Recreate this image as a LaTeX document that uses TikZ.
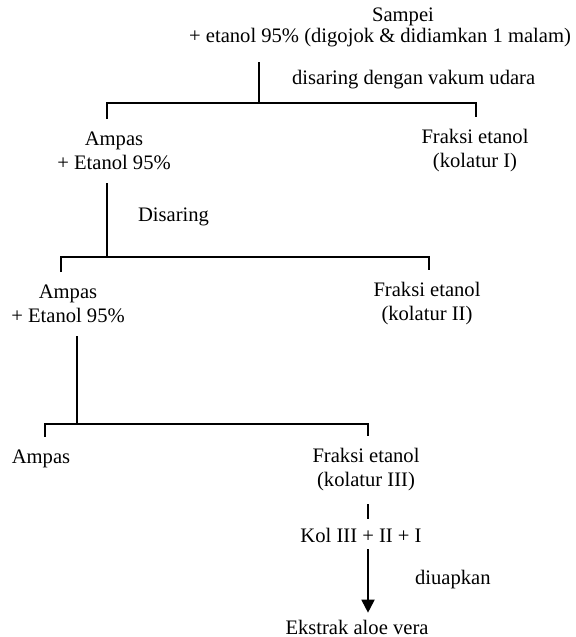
\documentclass[tikz,border=0pt]{standalone}
\usepackage{fontspec}
\setmainfont{Liberation Serif}
\usepackage{tikz}
\usetikzlibrary{arrows.meta}

\begin{document}
\begin{tikzpicture}[x=0.5pt,y=-0.5pt]
\useasboundingbox (0,0) rectangle (575,637);
\begin{scope}[every node/.style={align=center,font=\fontsize{10.3}{12}\selectfont}]
   \node (sampel) at (403,17) {Sampei};
   \node (campuran) at (380,38) {+ etanol 95\% (digojok \& didiamkan 1 malam)};

   \node (ampas1) at (114,151) {Ampas\\+ Etanol 95\%};
   \node (fraksi1) at (475,151) {Fraksi etanol\\(kolatur I)};

   \node (ampas2) at (68,304) {Ampas\\+ Etanol 95\%};
   \node (fraksi2) at (427,304) {Fraksi etanol\\(kolatur II)};

   \node (ampas3) at (41,459) {Ampas};
   \node (fraksi3) at (366,470) {Fraksi etanol\\(kolatur III)};

   \node (kol) at (361,535) {Kol III + II + I};
   \node (ekstrak) at (357,627) {Ekstrak aloe vera};

   % keterangan proses
   \node[anchor=west] (saring1) at (285,80) {disaring dengan vakum udara};
   \node[anchor=west] (saring2) at (131,217) {Disaring};
   \node[anchor=west] (uap) at (408,580) {diuapkan};
\end{scope}

\coordinate (k1) at (259,103);
\coordinate (k1l) at (107,103);
\coordinate (k1r) at (476,103);
\coordinate (k2) at (107,257);
\coordinate (k2l) at (61,257);
\coordinate (k2r) at (429,257);
\coordinate (k3) at (77,424);
\coordinate (k3l) at (45,424);
\coordinate (k3r) at (368,424);

\begin{scope}[every path/.style={draw,line width=0.9pt}]
   \path [shorten <=4pt] (campuran.south -| k1) -- (k1);
   \path [shorten <=3pt,shorten >=3pt] (ampas1.north -| k1l) |- (k1r) -- (fraksi1.north -| k1r);

   \path [shorten <=3pt] (ampas1.south -| k2) -- (k2);
   \path [shorten <=3pt,shorten >=3pt] (ampas2.north -| k2l) |- (k2r) -- (fraksi2.north -| k2r);

   \path [shorten <=3pt] (ampas2.south -| k3) -- (k3);
   \path [shorten <=3pt,shorten >=3pt] (ampas3.north -| k3l) |- (k3r) -- (fraksi3.north -| k3r);

   \path [shorten <=3pt,shorten >=1pt] (fraksi3.south -| k3r) -- (kol.north -| k3r);
   \path [-{Triangle[width=6.5pt,length=6.5pt]}] (kol.south -| k3r) -- (ekstrak.north -| k3r);
\end{scope}
\end{tikzpicture}
\end{document}
